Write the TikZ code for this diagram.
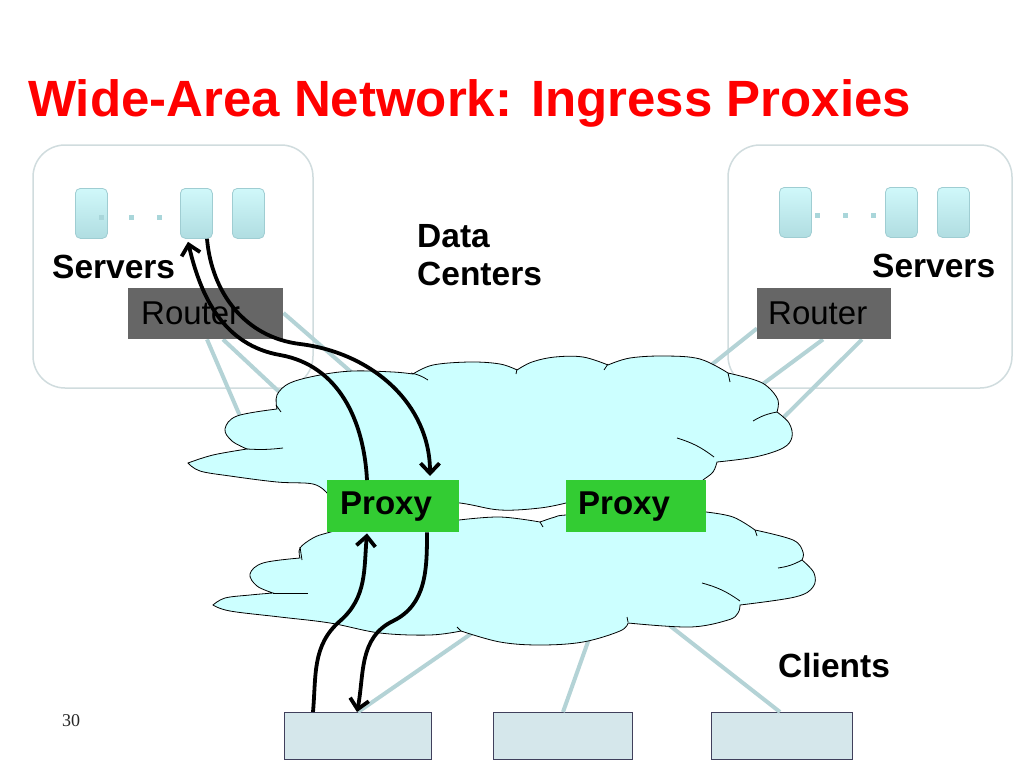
\documentclass[tikz,border=0pt]{standalone}
\usepackage{fontspec}
\setmainfont{Liberation Sans}
\newfontfamily\serifnum{Liberation Serif}
\usetikzlibrary{arrows.meta,calc}
\definecolor{titlered}{HTML}{FF0000}
\definecolor{cloudfill}{HTML}{CCFFFF}
\definecolor{proxygreen}{HTML}{33CC33}
\definecolor{routergray}{HTML}{666666}
\definecolor{linkcol}{HTML}{B4D3D6}
\definecolor{dcborder}{HTML}{D0DCDE}
\definecolor{clientfill}{HTML}{D5E7EB}
\definecolor{clientdraw}{HTML}{40405C}
\definecolor{srvtop}{HTML}{D0F8FA}
\definecolor{srvbot}{HTML}{B0DDE1}
\definecolor{srvdraw}{HTML}{9FCDD2}
\definecolor{dotcol}{HTML}{A9D6DA}
\begin{document}
\begin{tikzpicture}[x=1pt,y=1pt,
  dcbox/.style={draw=dcborder, line width=1.5pt, fill=white, rounded corners=32pt},
  server/.style={draw=srvdraw, line width=0.8pt, top color=srvtop, bottom color=srvbot, rounded corners=5pt, minimum width=32pt, minimum height=50pt, inner sep=0pt, anchor=north west},
  sdot/.style={fill=dotcol, minimum size=5pt, inner sep=0pt},
  router/.style={fill=routergray, minimum height=51pt, anchor=north west, inner ysep=0pt, font=\fontsize{33}{38}\selectfont, text=black, align=left},
  proxy/.style={fill=proxygreen, minimum height=52pt, anchor=north west, inner ysep=0pt, font=\fontsize{33}{38}\selectfont\bfseries, align=left},
  client/.style={draw=clientdraw, line width=0.8pt, fill=clientfill, minimum height=47pt, anchor=north west, inner sep=0pt},
  lbl/.style={font=\fontsize{33.5}{38}\selectfont\bfseries, inner sep=0pt, anchor=base west},
  link/.style={draw=linkcol, line width=4pt},
  cloudshape/.style={draw=black, line width=0.8pt, fill=cloudfill},
  hook/.style={draw=black, line width=0.8pt},
  flow/.style={draw=black, line width=3.8pt, -{Straight Barb[length=10pt,width=19pt]}},
  sm/.style={smooth, tension=0.6},
]
\useasboundingbox[fill=white] (0,0) rectangle (1024,-768);

% title
\node[font=\fontsize{51}{60}\selectfont\bfseries, text=titlered, inner sep=0pt, anchor=base west] (title) at (28,-116) {Wide-Area Network: Ingress Proxies};

% data centre boxes
\path[dcbox] (33,-145) rectangle (313,-388);
\path[dcbox] (728,-145) rectangle (1012,-388);

% servers
\node[server] (ls1) at (75,-188) {};
\node[server] (ls2) at (180,-188) {};
\node[server] (ls3) at (232,-188) {};
\node[server] (rs1) at (779,-187) {};
\node[server] (rs2) at (885,-187) {};
\node[server] (rs3) at (937,-187) {};
\node[sdot] (ld1) at (101,-217) {};
\node[sdot] (ld2) at (131,-217) {};
\node[sdot] (ld3) at (159,-217) {};
\node[sdot] (rd1) at (817,-215) {};
\node[sdot] (rd2) at (845,-215) {};
\node[sdot] (rd3) at (873,-215) {};

% routers (boxes first so links can refer to them)
\node[router, inner xsep=13pt, text width=129pt] (lr) at (128,-288) {Router};
\node[router, inner xsep=11pt, text width=112pt] (rr) at (757,-288) {Router};

% clients
\node[client, minimum width=147pt] (c1) at (284,-712) {};
\node[client, minimum width=139pt] (c2) at (493,-712) {};
\node[client, minimum width=141pt] (c3) at (711,-712) {};

% link ends inside the cloud
\coordinate (el1) at (246,-430);
\coordinate (el2) at (290,-402);
\coordinate (el3) at (358,-378);
\coordinate (er1) at (705,-370);
\coordinate (er2) at (752,-392);
\coordinate (er3) at (776,-425);
\coordinate (ec1) at (478,-629);
\coordinate (ec2) at (590,-636);
\coordinate (ec3) at (660,-618);

\draw[link] ($(lr.south west)+(79,0)$) -- (el1);
\draw[link] ($(lr.south west)+(95,0)$) -- (el2);
\draw[link] ($(lr.north east)+(0,-25)$) -- (el3);
\draw[link] ($(rr.south west)+(0,11)$) -- (er1);
\draw[link] ($(rr.south west)+(66,0)$) -- (er2);
\draw[link] ($(rr.south west)+(105,0)$) -- (er3);
\draw[link] ($(c1.north west)+(74,0)$) -- (ec1);
\draw[link] ($(c2.north west)+(70,0)$) -- (ec2);
\draw[link] ($(c3.north west)+(69,0)$) -- (ec3);

% upper cloud
\path[cloudshape] plot[sm] coordinates {(188,-463) (213,-455) (247,-449)}
 -- plot[sm] coordinates {(247,-449) (232,-441) (225,-429) (237,-416) (277,-409)}
 -- plot[sm] coordinates {(277,-409) (277,-395) (290,-383) (320,-375) (353,-371) (393,-372) (413,-374)}
 -- plot[sm] coordinates {(413,-374) (433,-365) (470,-362) (500,-364) (517,-370)}
 -- plot[sm] coordinates {(517,-370) (532,-362) (555,-357) (583,-357) (608,-365)}
 -- plot[sm] coordinates {(608,-365) (630,-358) (665,-356) (700,-359) (728,-373)}
 -- plot[sm] coordinates {(728,-373) (755,-380) (768,-387) (778,-400) (777,-412)}
 -- plot[sm] coordinates {(777,-412) (789,-423) (792,-437) (783,-448) (755,-457) (717,-462)}
 -- plot[sm] coordinates {(717,-462) (713,-472) (703,-480) (690,-490) (640,-500) (566,-503)}
 -- plot[sm] coordinates {(566,-503) (540,-508) (500,-510) (460,-503) (400,-497) (327,-493)}
 -- plot[sm] coordinates {(327,-493) (313,-484) (277,-482) (230,-476) (200,-471) (188,-463)}
 -- cycle;
\draw[hook] (247,-449) to[bend right=5] (283,-448);
\draw[hook] (276,-405) -- (281,-412);
\draw[hook] (411,-373) to[bend left=10] (428,-380);
\draw[hook] (517,-369) -- (516,-374);
\draw[hook] (608,-364) -- (604,-370);
\draw[hook] (728,-373) -- (730,-382);
\draw[hook] (777,-412) to[bend right=10] (753,-421);
\draw[hook] (677,-438) to[bend left=10] (714,-457);

% lower cloud
\path[cloudshape] plot[sm] coordinates {(213,-605) (225,-598) (250,-595) (273,-593)}
 -- plot[sm] coordinates {(273,-593) (257,-586) (250,-574) (263,-563) (300,-558)}
 -- plot[sm] coordinates {(300,-558) (300,-548) (313,-538) (327,-533) (360,-525) (400,-522) (459,-520)}
 -- plot[sm] coordinates {(459,-520) (500,-517) (540,-522)}
 -- plot[sm] coordinates {(540,-522) (555,-517) (566,-515) (620,-512) (706,-512)}
 -- plot[sm] coordinates {(706,-512) (733,-517) (755,-530)}
 -- plot[sm] coordinates {(755,-530) (793,-540) (803,-552) (802,-560)}
 -- plot[sm] coordinates {(802,-560) (814,-573) (813,-587) (795,-597) (740,-605)}
 -- plot[sm] coordinates {(740,-605) (738,-613) (728,-620) (690,-627) (628,-623)}
 -- plot[sm] coordinates {(628,-623) (620,-631) (583,-642) (540,-645) (500,-642) (461,-631)}
 -- plot[sm] coordinates {(461,-631) (430,-635) (380,-633) (330,-623) (280,-617) (230,-611) (213,-605)}
 -- cycle;
\draw[hook] (273,-593) -- (308,-593);
\draw[hook] (300,-547) -- (302,-560);
\draw[hook] (540,-522) -- (543,-527);
\draw[hook] (755,-530) -- (757,-536);
\draw[hook] (802,-560) to[bend left=10] (778,-568);
\draw[hook] (702,-583) to[bend left=10] (740,-601);
\draw[hook] (628,-622) -- (627,-617);
\draw[hook] (461,-631) -- (457,-627);

% redraw routers on top of links
\node[router, inner xsep=13pt, text width=129pt] at (128,-288) {Router};
\node[router, inner xsep=11pt, text width=112pt] at (757,-288) {Router};

% proxies
\node[proxy, inner xsep=13pt, text width=106pt] (px1) at (327,-480) {Proxy};
\node[proxy, inner xsep=12pt, text width=116pt] (px2) at (566,-480) {Proxy};

% labels
\node[lbl] (lservers) at (52,-278) {Servers};
\node[lbl] (rservers) at (872,-277) {Servers};
\node[lbl] (dcdata) at (417,-247) {Data};
\node[lbl] (dccent) at (417,-285) {Centers};
\node[lbl] (clients) at (778,-677) {Clients};
\node[font=\serifnum\fontsize{18}{20}\selectfont, text=black!85, inner sep=0pt, anchor=base west] (pnum) at (62,-726) {30};

% flows
\coordinate (w1) at (280,-355);
\coordinate (w2) at (300,-344);
\coordinate (w3) at (340,-621);
\coordinate (w4) at (393,-621);
\draw[flow] ($(px1.north west)+(40,0)$) to[out=93,in=-10] (w1) to[out=170,in=-77] ($(ls2.south west)+(8,-3)$);
\draw[flow] ($(ls2.south west)+(27,0)$) to[out=-85,in=173] (w2) to[out=-7,in=90] ($(px1.north west)+(103,4)$);
\draw[flow] ($(c1.north west)+(29,0)$) to[out=85,in=221] (w3) to[out=41,in=-95] ($(px1.south west)+(40,-1)$);
\draw[flow] ($(px1.south west)+(100,0)$) to[out=-90,in=26] (w4) to[out=206,in=79] ($(c1.north west)+(73,0)$);
\end{tikzpicture}
\end{document}
